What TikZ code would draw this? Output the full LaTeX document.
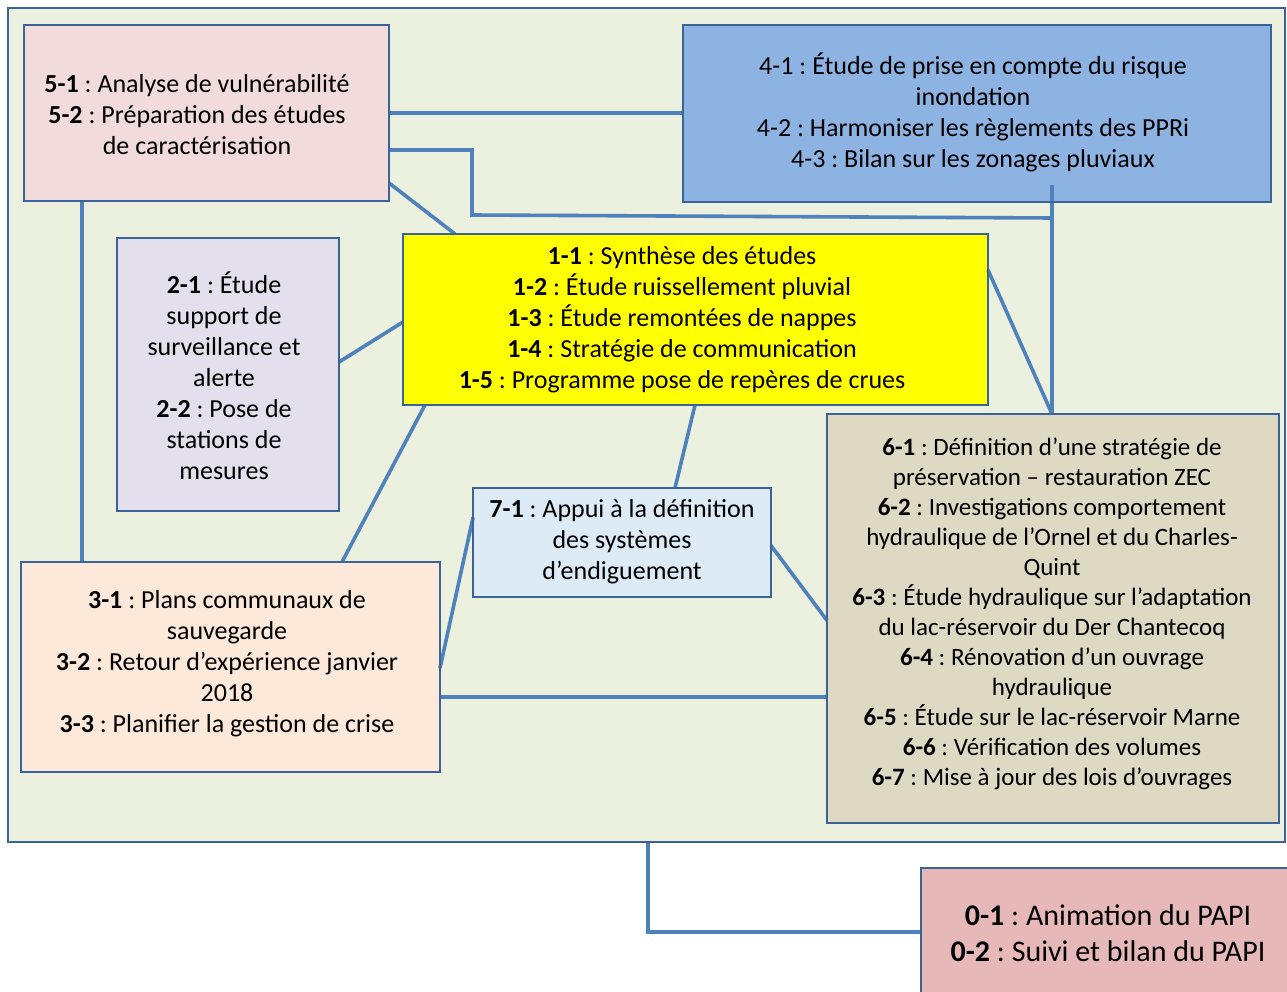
\documentclass[tikz,border=0pt]{standalone}
\usepackage{fontspec}
\setmainfont{Carlito}
\usetikzlibrary{calc}
\definecolor{frameback}{HTML}{EBF1DE}
\definecolor{boxline}{HTML}{3B6397}
\definecolor{conn}{HTML}{4F81BD}
\definecolor{fcinq}{HTML}{F2DCDB}
\definecolor{fquatre}{HTML}{8DB3E2}
\definecolor{fun}{HTML}{FFFF00}
\definecolor{fdeux}{HTML}{E4DFEC}
\definecolor{fsept}{HTML}{DCEBF6}
\definecolor{ftrois}{HTML}{FDE9D9}
\definecolor{fsix}{HTML}{DDD9C3}
\definecolor{fzero}{HTML}{E6B9B8}
\frenchspacing
\tikzset{
  x=1pt,y=-1pt,
  pbox/.style={draw=boxline,line width=2.6pt,inner sep=0pt,outer sep=0pt},
  conline/.style={draw=conn,line width=3.6pt},
  txt/.style={align=center,inner sep=0pt,font=\frenchspacing\fontsize{26}{31}\selectfont},
}
\begin{document}
\begin{tikzpicture}
\clip (0,0) rectangle (1287,992);
\fill[white] (0,0) rectangle (1287,992);
% frame and boxes
\node[pbox,fill=frameback,minimum width=1277pt,minimum height=834pt] (frame) at (646.5,425) {};
\node[pbox,fill=fcinq,minimum width=365pt,minimum height=176pt] (b5) at (206.5,113) {};
\node[pbox,fill=fquatre,minimum width=588pt,minimum height=177pt] (b4) at (977,113.5) {};
\node[pbox,fill=fun,minimum width=585pt,minimum height=171pt] (b1) at (695.5,319.5) {};
\node[pbox,fill=fdeux,minimum width=222pt,minimum height=273pt] (b2) at (228,374.5) {};
\node[pbox,fill=fsept,minimum width=298pt,minimum height=109pt] (b7) at (622,542.5) {};
\node[pbox,fill=ftrois,minimum width=419pt,minimum height=210pt] (b3) at (230.5,667) {};
\node[pbox,fill=fsix,minimum width=452pt,minimum height=409pt] (b6) at (1053,618.5) {};
\node[pbox,fill=fzero,minimum width=380pt,minimum height=160pt] (b0) at (1111,948) {};

\coordinate (j1) at (472,215);
\coordinate (j2) at (1052,218);
\coordinate (j3) at (1052,185);
\coordinate (j4) at (648,932);
% connectors
\draw[conline] (b5.east) -- (b5.east -| b4.west);
\draw[conline] ([yshift=-37pt]b5.east) -| (j1) -- (j2);
\draw[conline] (j3) -- (j3 |- b6.north);
\draw[conline] ([yshift=-70pt]b5.east) -- ([xshift=52pt]b1.north west);
\draw[conline] (b5.south -| 82,0) -- (b3.north -| 82,0);
\draw[conline] ([yshift=12.5pt]b2.east) -- ([yshift=-2.5pt]b1.west);
\draw[conline] ([xshift=22pt]b1.south west) -- ([xshift=-98pt]b3.north east);
\draw[conline] ([xshift=-0.5pt]b1.south) -- ([xshift=53pt]b7.north);
\draw[conline] ([yshift=-36pt]b1.north east) -- (j3 |- b6.north);
\draw[conline] ([yshift=25pt]b7.west) -- ([yshift=-1pt]b3.east);
\draw[conline] ([yshift=-3pt]b7.east) -- ([yshift=-2pt]b6.west);
\draw[conline] ([yshift=-30pt]b3.east) -- ([yshift=-30pt]b3.east -| b6.west);
\draw[conline] (frame.south -| j4) -- (j4) -- (j4 -| b0.west);
% redraw box borders over connector ends
\foreach \n in {frame,b5,b4,b1,b2,b7,b3,b6,b0}{\draw[draw=boxline,line width=2.6pt] (\n.north west) rectangle (\n.south east);}

% texts
\node[txt] (t5) at (197,115) {\textbf{5-1} : Analyse de vulnérabilité\\\textbf{5-2} : Préparation des études\\de caractérisation};
\node[txt] (t4) at (973,112) {4-1 : Étude de prise en compte du risque\\inondation\\4-2 : Harmoniser les règlements des PPRi\\4-3 : Bilan sur les zonages pluviaux};
\node[txt] (t1) at (682,320) {\textbf{1-1} : Synthèse des études\\\textbf{1-2} : Étude ruissellement pluvial\\\textbf{1-3} : Étude remontées de nappes\\\textbf{1-4} : Stratégie de communication\\\textbf{1-5} : Programme pose de repères de crues};
\node[txt] (t2) at (224,376) {\textbf{2-1} : Étude\\support de\\surveillance et\\alerte\\\textbf{2-2} : Pose de\\stations de\\mesures};
\node[txt] (t7) at (622,542) {\textbf{7-1} : Appui à la définition\\des systèmes\\d’endiguement};
\node[txt] (t3) at (227,664) {\textbf{3-1} : Plans communaux de\\sauvegarde\\\textbf{3-2} : Retour d’expérience janvier\\2018\\\textbf{3-3} : Planifier la gestion de crise};
\node[txt,font=\frenchspacing\fontsize{25}{30}\selectfont] (t6) at (1052,614) {\textbf{6-1} : Définition d’une stratégie de\\préservation – restauration ZEC\\\textbf{6-2} : Investigations comportement\\hydraulique de l’Ornel et du Charles-\\Quint\\\textbf{6-3} : Étude hydraulique sur l’adaptation\\du lac-réservoir du Der Chantecoq\\\textbf{6-4} : Rénovation d’un ouvrage\\hydraulique\\\textbf{6-5} : Étude sur le lac-réservoir Marne\\\textbf{6-6} : Vérification des volumes\\\textbf{6-7} : Mise à jour des lois d’ouvrages};
\node[txt,font=\frenchspacing\fontsize{30}{36}\selectfont] (t0) at (1108,933) {\textbf{0-1} : Animation du PAPI\\\textbf{0-2} : Suivi et bilan du PAPI};
\end{tikzpicture}
\end{document}
